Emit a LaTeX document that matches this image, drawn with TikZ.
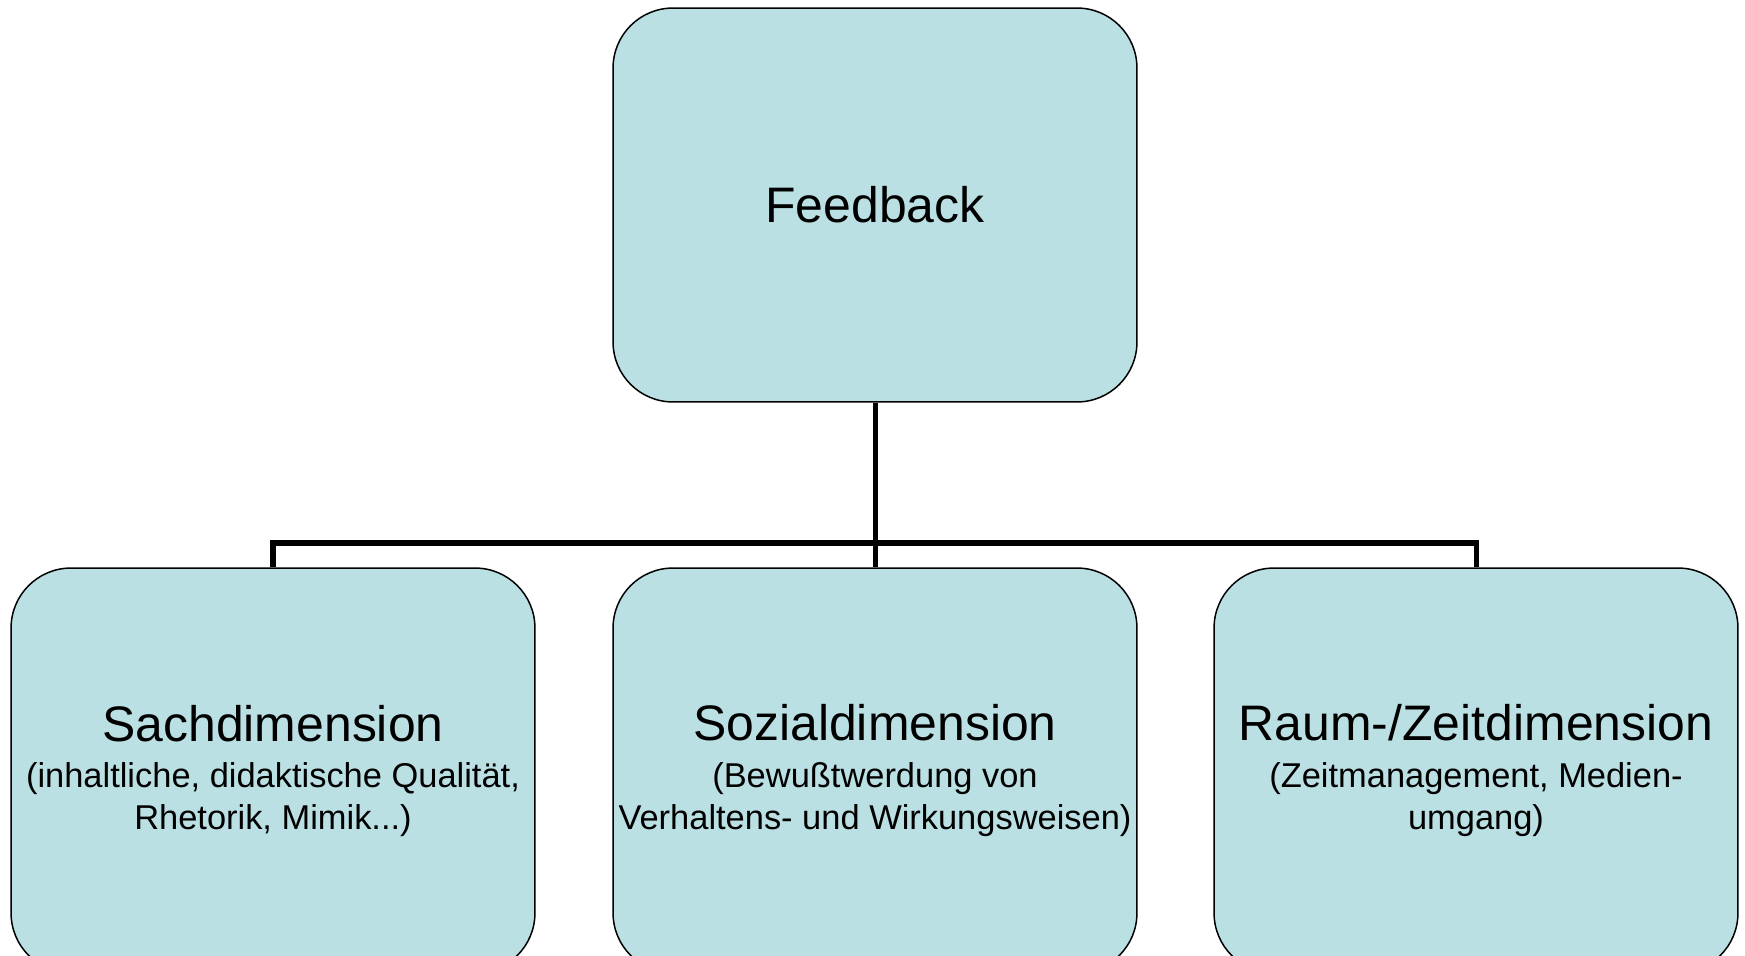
\documentclass[tikz,border=0pt]{standalone}
\usepackage{fontspec}
\setmainfont{Liberation Sans}
\usetikzlibrary{positioning}
\definecolor{boxblue}{HTML}{BBE0E3}
\newcommand{\titlesize}{\fontsize{28.4pt}{30pt}\selectfont}
\newcommand{\subsize}{\fontsize{19.6pt}{23.9pt}\selectfont}
\tikzstyle{dimbox}=[draw=black,fill=boxblue,line width=0.85pt,rounded corners=1.2cm,
  minimum width=10.48cm,minimum height=7.88cm,inner sep=0pt,align=center]
\tikzstyle{subbox}=[dimbox,minimum height=8.1cm,font=\subsize]
\tikzstyle{connector}=[line width=2.85pt,line cap=butt,line join=miter]

\begin{document}
\begin{tikzpicture}[x=0.02cm,y=-0.02cm]
  \useasboundingbox (0,0) rectangle (1745,956);
  \clip (0,0) rectangle (1745,956);
  \node[dimbox,font=\titlesize] (fb) at (875,205) {Feedback};
  \node[subbox] (sach) at (273,770.5)
    {{\titlesize Sachdimension}\\[2.3pt](inhaltliche, didaktische Qualität,\\Rhetorik, Mimik...)};
  \node[subbox] (sozial) at (875,770.5)
    {{\titlesize Sozialdimension}\\[2.3pt](Bewußtwerdung von\\Verhaltens- und Wirkungsweisen)};
  \node[subbox] (raum) at (1476,770.5)
    {{\titlesize Raum-/Zeitdimension}\\[2.3pt](Zeitmanagement, Medien-\\umgang)};
%  \coordinate (bus) at ($(fb.south)!0.5!(sozial.north)$);
  \coordinate (bus) at (0,543);
  \draw[connector] (fb.south) -- (sozial.north);
  \draw[connector] (sach.north) -- (sach.north |- bus) -- (raum.north |- bus) -- (raum.north);
\end{tikzpicture}
\end{document}
